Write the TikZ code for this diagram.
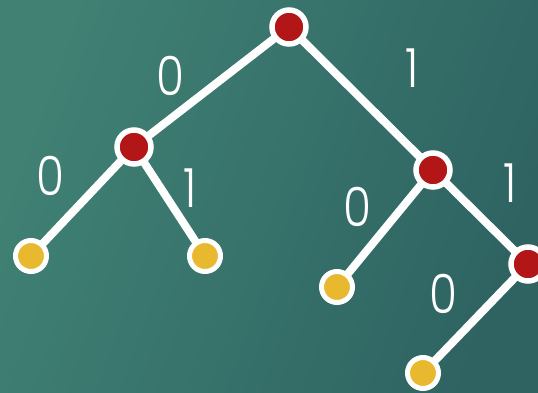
\documentclass[tikz,border=0pt]{standalone}
\usepackage{fontspec}
\setmainfont{Poppins}[UprightFont=*-Light]
\begin{document}
\begin{tikzpicture}[x=1pt,y=-1pt,
  inner/.style={circle,draw=white,line width=5.5pt,fill=nodered,minimum size=34pt,inner sep=0pt},
  leaf/.style={circle,draw=white,line width=5pt,fill=leafyellow,minimum size=31pt,inner sep=0pt},
  edge/.style={draw=white,line width=8pt},
  bit/.style={text=white,font=\fontsize{54}{54}\selectfont,inner sep=0pt,xscale=0.84}]
\definecolor{nodered}{RGB}{178,22,22}
\definecolor{leafyellow}{RGB}{232,184,46}
\definecolor{bgA}{RGB}{64,129,116}
\definecolor{bgB}{RGB}{46,99,98}
% background
\shade[shading=axis,left color=bgA,right color=bgB,shading angle=70] (0,0) rectangle (538,392);
\useasboundingbox (0,0) rectangle (538,392);
% tree nodes
\coordinate (r) at (289,27);
\coordinate (a) at (134,147);
\coordinate (b) at (433,170);
\coordinate (c) at (528,264);
\coordinate (l1) at (31,256);
\coordinate (l2) at (205,256);
\coordinate (l3) at (337,287);
\coordinate (l4) at (423,373);
% branches
\draw[edge] (r) -- (a);
\draw[edge] (r) -- (b);
\draw[edge] (a) -- (l1);
\draw[edge] (a) -- (l2);
\draw[edge] (b) -- (l3);
\draw[edge] (b) -- (c);
\draw[edge] (c) -- (l4);
\node[inner] (nr) at (r) {};
\node[inner] (na) at (a) {};
\node[inner] (nb) at (b) {};
\node[inner] (nc) at (c) {};
\node[leaf] (n1) at (l1) {};
\node[leaf] (n2) at (l2) {};
\node[leaf] (n3) at (l3) {};
\node[leaf] (n4) at (l4) {};
% branch labels
\node[bit] (t1) at (170,76) {0};
\node[bit] (t2) at (412,68) {1};
\node[bit] (t3) at (50,176) {0};
\node[bit] (t4) at (190,188) {1};
\node[bit] (t5) at (357,207) {0};
\node[bit] (t6) at (510,183) {1};
\node[bit] (t7) at (443,294) {0};
\end{tikzpicture}
\end{document}
